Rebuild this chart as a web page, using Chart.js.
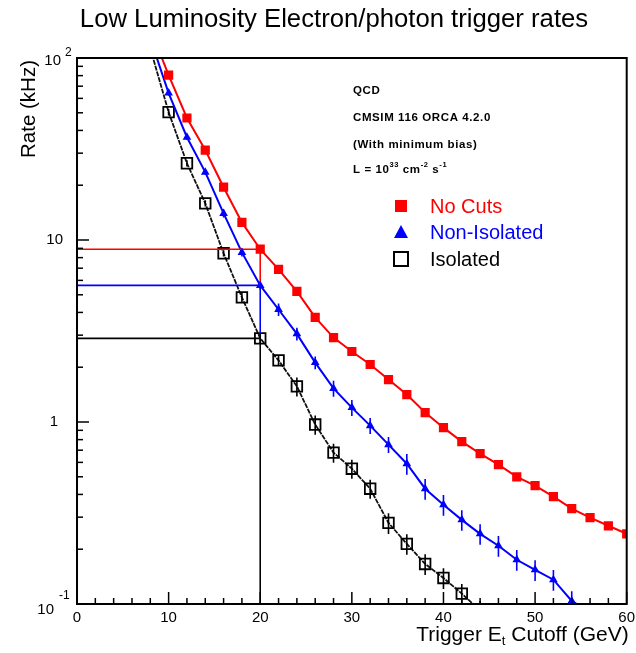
<!DOCTYPE html>
<html>
<head>
<meta charset="utf-8">
<script src="https://cdn.jsdelivr.net/npm/chart.js@4/dist/chart.umd.min.js"></script>
<style>
  html, body { margin: 0; padding: 0; background: #fff; }
  #wrap { width: 636px; height: 653px; position: relative; }
</style>
</head>
<body>
<div id="wrap"><canvas id="rateChart"></canvas></div>
<script>
// Trigger Et cutoff (GeV) for each series
var etNoCuts = [8,10,12,14,16,18,20,22,24,26,28,30,32,34,36,38,40,42,44,46,48,50,52,54,56,58,60];
var etNonIso = [8,10,12,14,16,18,20,22,24,26,28,30,32,34,36,38,40,42,44,46,48,50,52,54,56];
var etIso    = [8,10,12,14,16,18,20,22,24,26,28,30,32,34,36,38,40,42,44];

// rates (kHz)
var rateNoCuts = [145,80.6,46.8,31.2,19.5,12.5,8.9,6.9,5.22,3.76,2.91,2.44,2.07,1.71,1.415,1.127,0.931,0.78,0.67,0.583,0.5,0.447,0.389,0.334,0.298,0.269,0.243];
var rateNonIso = [128,64.2,36.7,23.6,14.0,8.55,5.63,4.15,3.05,2.12,1.53,1.2,0.955,0.751,0.59,0.43,0.351,0.29,0.243,0.209,0.175,0.154,0.136,0.104,0.09];
var rateIso    = [113,50.4,26.4,15.9,8.45,4.84,2.88,2.18,1.57,0.968,0.679,0.554,0.43,0.279,0.214,0.166,0.139,0.114,0.092];

// relative errors (fraction of the rate)
var errNonIso = [0.03,0.03,0.03,0.03,0.05,0.05,0.05,0.08,0.08,0.08,0.1,0.1,0.1,0.1,0.13,0.13,0.13,0.13,0.13,0.13,0.13,0.13,0.13,0.13,0.13];
var errIso    = [0.04,0.04,0.04,0.04,0.04,0.06,0.06,0.06,0.12,0.12,0.12,0.12,0.12,0.13,0.13,0.13,0.13,0.13,0.13];

var xMin = 0, xMax = 60, yMin = 0.1, yMax = 100;
var xMajor = [0,10,20,30,40,50,60];
var refEt = 20;

var infoLines = ['QCD', 'CMSIM 116 ORCA 4.2.0', '(With minimum bias)'];
var legendNames = ['No Cuts', 'Non-Isolated', 'Isolated'];

var FONT = '"Liberation Sans", Arial, Helvetica, sans-serif';

function pts(xs, ys){
    var out = [];
    for(var i=0;i<xs.length;i++) out.push({x:xs[i], y:ys[i]});
    return out;
}
function refLine(xs, ys, nextYs){
    var i = xs.indexOf(refEt);
    var yEnd = nextYs ? nextYs[i] : yMin;
    return [{x:xMin,y:ys[i]},{x:refEt,y:ys[i]},{x:refEt,y:yEnd}];
}
function hideAbove(r){
    return function(c){ return (c.raw && c.raw.y > yMax) ? 0 : r; };
}

var decor = {
    id: 'decor',
    afterDatasetsDraw: function(chart){
        var ctx = chart.ctx, a = chart.chartArea, x = chart.scales.x, y = chart.scales.y;
        ctx.save();
        ctx.beginPath();
        ctx.rect(a.left, a.top, a.right-a.left, a.bottom-a.top);
        ctx.clip();
        var sets = [[etNonIso, rateNonIso, errNonIso, '#0000ff'], [etIso, rateIso, errIso, '#000000']];
        sets.forEach(function(s){
            ctx.strokeStyle = s[3];
            ctx.lineWidth = 1.6;
            for(var i=0;i<s[0].length;i++){
                var px = x.getPixelForValue(s[0][i]);
                ctx.beginPath();
                ctx.moveTo(px, y.getPixelForValue(s[1][i]*(1+s[2][i])));
                ctx.lineTo(px, y.getPixelForValue(s[1][i]*(1-s[2][i])));
                ctx.stroke();
            }
        });
        ctx.restore();
    },
    afterDraw: function(chart){
        var ctx = chart.ctx, a = chart.chartArea, x = chart.scales.x, y = chart.scales.y;
        ctx.save();
        ctx.strokeStyle = '#000';
        ctx.lineWidth = 2;
        ctx.strokeRect(a.left, a.top, a.right-a.left, a.bottom-a.top);

        // x ticks, pointing inwards
        ctx.lineWidth = 1.5;
        for(var v=xMin; v<=xMax; v+=2){
            var px = x.getPixelForValue(v);
            var len = (v % 10 === 0) ? 12 : 6;
            ctx.beginPath(); ctx.moveTo(px, a.bottom); ctx.lineTo(px, a.bottom-len); ctx.stroke();
        }
        // y ticks (log)
        for(var d=yMin; d<yMax*1.01; d*=10){
            for(var m=1;m<=9;m++){
                var val = d*m;
                if(val > yMax*1.001) break;
                var py = y.getPixelForValue(val);
                var l = (m===1) ? 12 : 6;
                ctx.beginPath(); ctx.moveTo(a.left, py); ctx.lineTo(a.left+l, py); ctx.stroke();
            }
        }

        ctx.fillStyle = '#000';
        // x tick labels
        ctx.font = '15px ' + FONT;
        ctx.textAlign = 'center';
        ctx.textBaseline = 'middle';
        xMajor.forEach(function(v){
            ctx.fillText(String(v), x.getPixelForValue(v), a.bottom+14);
        });

        // y tick labels
        ctx.textAlign = 'right';
        var p100 = y.getPixelForValue(100), p10 = y.getPixelForValue(10),
            p1 = y.getPixelForValue(1), p01 = y.getPixelForValue(0.1);
        ctx.fillText('10', a.left-16, p100+3);
        ctx.fillText('10', a.left-14, p10);
        ctx.fillText('1', a.left-19, p1);
        ctx.fillText('10', a.left-23, p01+6);
        ctx.font = '12px ' + FONT;
        ctx.textAlign = 'left';
        ctx.fillText('2', a.left-12, p100-5);
        ctx.fillText('-1', a.left-18, p01-8);

        // title
        ctx.font = '25.7px ' + FONT;
        ctx.textAlign = 'center';
        ctx.fillText('Low Luminosity Electron/photon trigger rates', 334, 20);

        // x axis title with subscript
        ctx.textAlign = 'left';
        ctx.textBaseline = 'alphabetic';
        var s1 = 'Trigger E', s2 = 't', s3 = ' Cutoff (GeV)';
        ctx.font = '21px ' + FONT;
        var w1 = ctx.measureText(s1).width, w3 = ctx.measureText(s3).width;
        ctx.font = '13px ' + FONT;
        var w2 = ctx.measureText(s2).width;
        var xEnd = a.right + 2;
        var start = xEnd - w1 - w2 - w3;
        ctx.font = '21px ' + FONT;
        ctx.fillText(s1, start, 641);
        ctx.font = '13px ' + FONT;
        ctx.fillText(s2, start+w1, 645);
        ctx.font = '21px ' + FONT;
        ctx.fillText(s3, start+w1+w2, 641);

        // y axis title
        ctx.save();
        ctx.translate(35, a.top + 2);
        ctx.rotate(-Math.PI/2);
        ctx.textAlign = 'right';
        ctx.font = '20.5px ' + FONT;
        ctx.fillText('Rate (kHz)', 0, 0);
        ctx.restore();

        // info text
        var big = 'bold 11.5px ' + FONT, sup = 'bold 7.5px ' + FONT;
        ctx.letterSpacing = '0.6px';
        ctx.font = big;
        ctx.textBaseline = 'middle';
        ctx.textAlign = 'left';
        var infoY = [91, 118, 145];
        infoLines.forEach(function(t, i){ ctx.fillText(t, 353, infoY[i]); });
        var lx = 353, ly = 170, cx = lx;
        [['L = 10', big, 0], ['33', sup, -5], [' cm', big, 0], ['-2', sup, -5], [' s', big, 0], ['-1', sup, -5]].forEach(function(p){
            ctx.font = p[1];
            ctx.fillText(p[0], cx, ly + p[2]);
            cx += ctx.measureText(p[0]).width;
        });
        ctx.letterSpacing = '0px';

        // legend
        var legY = [206, 232, 259], cols = ['#ff0000', '#0000ff', '#000000'];
        ctx.fillStyle = '#ff0000';
        ctx.fillRect(395, legY[0]-6, 12, 12);
        ctx.fillStyle = '#0000ff';
        ctx.beginPath();
        ctx.moveTo(401, legY[1]-7); ctx.lineTo(408, legY[1]+6); ctx.lineTo(394, legY[1]+6); ctx.closePath();
        ctx.fill();
        ctx.strokeStyle = '#000'; ctx.lineWidth = 2;
        ctx.strokeRect(394, legY[2]-7, 14, 14);
        ctx.font = '20px ' + FONT;
        legendNames.forEach(function(t, i){
            ctx.fillStyle = cols[i];
            ctx.fillText(t, 430, legY[i]+1);
        });
        ctx.restore();
    }
};

var chart = new Chart(document.getElementById('rateChart'), {
    type: 'line',
    data: {
        datasets: [
            { data: refLine(etNoCuts, rateNoCuts, rateNonIso), borderColor:'#ff0000', borderWidth:1.6, pointRadius:0, fill:false },
            { data: refLine(etNonIso, rateNonIso, rateIso), borderColor:'#0000ff', borderWidth:1.6, pointRadius:0, fill:false },
            { data: refLine(etIso, rateIso, null), borderColor:'#000000', borderWidth:1.6, pointRadius:0, fill:false },
            { label: legendNames[0], data: pts(etNoCuts, rateNoCuts), borderColor:'#ff0000', backgroundColor:'#ff0000',
              borderWidth:2, pointStyle:'rect', pointRadius:hideAbove(6.5), pointBorderWidth:0, fill:false },
            { label: legendNames[1], data: pts(etNonIso, rateNonIso), borderColor:'#0000ff', backgroundColor:'#0000ff',
              borderWidth:2, pointStyle:'triangle', pointRadius:hideAbove(5), pointBorderWidth:0, fill:false },
            { label: legendNames[2], data: pts(etIso, rateIso), borderColor:'#111111', backgroundColor:'rgba(255,255,255,0)',
              borderWidth:1.8, borderDash:[5,1], pointStyle:'rect', pointRadius:hideAbove(7.5), pointBorderWidth:1.8,
              pointBorderColor:'#000', fill:false }
        ]
    },
    options: {
        responsive: true,
        maintainAspectRatio: false,
        animation: false,
        layout: { padding: { left: 77, top: 58, right: 8, bottom: 49 } },
        plugins: { legend: { display: false }, tooltip: { enabled: false }, title: { display: false } },
        scales: {
            x: { type: 'linear', min: xMin, max: xMax, display: false },
            y: { type: 'logarithmic', min: yMin, max: yMax, display: false }
        }
    },
    plugins: [decor]
});
</script>
</body>
</html>
